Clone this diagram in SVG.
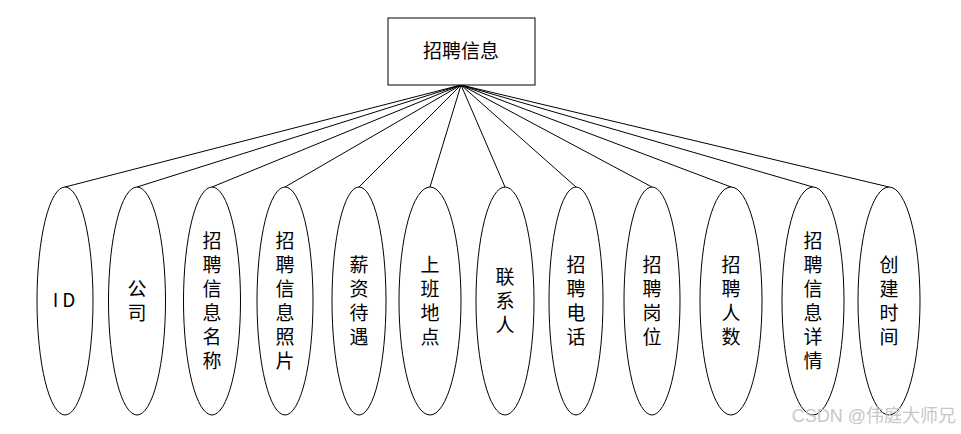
<svg xmlns="http://www.w3.org/2000/svg" width="961" height="434" viewBox="0 0 961 434">
<style>
.box{fill:#fff;stroke:#000;stroke-width:1}
.ell{fill:#fff;stroke:#000;stroke-width:1}
.ln{stroke:#000;stroke-width:1;fill:none}
.t{font-family:"Noto Sans CJK SC","Noto Sans",sans-serif;font-size:19px;fill:#000;text-anchor:middle}
.v{font-family:"Noto Sans CJK SC","Noto Sans",sans-serif;font-size:19px;fill:#000;text-anchor:middle;writing-mode:vertical-rl;text-orientation:upright;letter-spacing:5px}
.wm{font-family:"Liberation Sans","Noto Sans CJK SC",sans-serif;font-size:18px;fill:#c8c8c8;text-anchor:end}
</style>
<rect width="961" height="434" fill="#fff"/>
<g id="connectors">
<line class="ln" x1="461" y1="85" x2="65" y2="187"/>
<line class="ln" x1="461" y1="85" x2="137" y2="187"/>
<line class="ln" x1="461" y1="85" x2="212" y2="187"/>
<line class="ln" x1="461" y1="85" x2="285" y2="187"/>
<line class="ln" x1="461" y1="85" x2="359" y2="187"/>
<line class="ln" x1="461" y1="85" x2="430" y2="187"/>
<line class="ln" x1="461" y1="85" x2="505" y2="187"/>
<line class="ln" x1="461" y1="85" x2="576" y2="187"/>
<line class="ln" x1="461" y1="85" x2="652" y2="187"/>
<line class="ln" x1="461" y1="85" x2="731" y2="187"/>
<line class="ln" x1="461" y1="85" x2="813" y2="187"/>
<line class="ln" x1="461" y1="85" x2="889" y2="187"/>
</g>
<g id="root">
<rect class="box" x="388" y="18" width="147" height="67"/>
<text class="t" x="461" y="58">招聘信息</text>
</g>
<g id="n1"><ellipse class="ell" cx="65" cy="301" rx="28" ry="114"/><text class="t" x="66" y="307" letter-spacing="4">ID</text></g>
<g id="n2"><ellipse class="ell" cx="137" cy="301" rx="28.5" ry="114"/><text class="v" x="137" y="303">公司</text></g>
<g id="n3"><ellipse class="ell" cx="212" cy="301" rx="28.5" ry="114"/><text class="v" x="212" y="303">招聘信息名称</text></g>
<g id="n4"><ellipse class="ell" cx="285" cy="301" rx="28" ry="114"/><text class="v" x="285" y="303">招聘信息照片</text></g>
<g id="n5"><ellipse class="ell" cx="359" cy="301" rx="27" ry="114"/><text class="v" x="359" y="303">薪资待遇</text></g>
<g id="n6"><ellipse class="ell" cx="430" cy="301" rx="31" ry="114"/><text class="v" x="430" y="303">上班地点</text></g>
<g id="n7"><ellipse class="ell" cx="505" cy="301" rx="29" ry="114"/><text class="v" x="505" y="303">联系人</text></g>
<g id="n8"><ellipse class="ell" cx="576" cy="301" rx="27" ry="114"/><text class="v" x="576" y="303">招聘电话</text></g>
<g id="n9"><ellipse class="ell" cx="652" cy="301" rx="28" ry="114"/><text class="v" x="652" y="303">招聘岗位</text></g>
<g id="n10"><ellipse class="ell" cx="731" cy="301" rx="31" ry="114"/><text class="v" x="731" y="303">招聘人数</text></g>
<g id="n11"><ellipse class="ell" cx="813" cy="301" rx="31" ry="114"/><text class="v" x="813" y="303">招聘信息详情</text></g>
<g id="n12"><ellipse class="ell" cx="889" cy="301" rx="31" ry="114"/><text class="v" x="889" y="303">创建时间</text></g>
<text class="wm" x="956" y="422">CSDN @伟庭大师兄</text>
</svg>
